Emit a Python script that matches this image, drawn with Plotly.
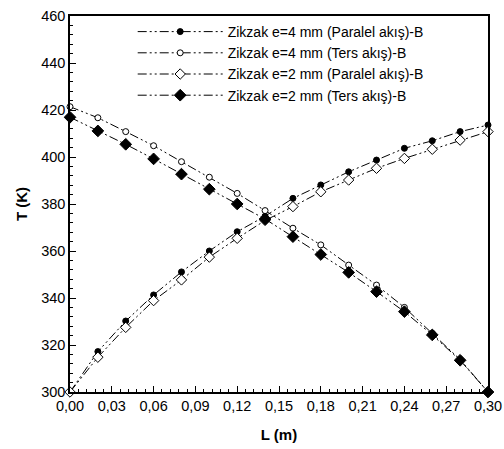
import plotly.graph_objects as go

L = [0.00, 0.02, 0.04, 0.06, 0.08, 0.10, 0.12, 0.14, 0.16, 0.18, 0.20, 0.22, 0.24, 0.26, 0.28, 0.30]
paralel_e4 = [300, 317.2, 330.2, 341.3, 351.1, 360.0, 368.2, 374.8, 382.4, 388.1, 393.7, 398.7, 403.7, 406.9, 410.8, 413.6]
ters_e4 = [421.4, 416.7, 410.8, 404.8, 398.0, 391.4, 384.5, 377.2, 369.7, 362.6, 354.0, 345.5, 336.0, 325.0, 313.8, 300]
paralel_e2 = [300, 314.8, 327.5, 338.9, 347.7, 357.4, 365.4, 373.0, 378.9, 385.2, 390.2, 395.2, 399.4, 403.3, 407.2, 410.8]
ters_e2 = [416.9, 411.1, 405.4, 399.2, 392.7, 386.3, 380.0, 373.6, 366.1, 358.5, 350.9, 342.7, 334.2, 324.3, 313.5, 300]

names = ["Zikzak e=4 mm (Paralel akış)-B", "Zikzak e=4 mm (Ters akış)-B",
         "Zikzak e=2 mm (Paralel akış)-B", "Zikzak e=2 mm (Ters akış)-B"]
series = [paralel_e4, ters_e4, paralel_e2, ters_e2]
symbols = ["circle", "circle-open", "diamond-open", "diamond"]
sizes = [6, 6, 8, 9]

dash = "9px,3px,2px,3px,2px,3px"

fig = go.Figure()
for name, ys, sym, sz in zip(names, series, symbols, sizes):
    fill = "white" if "open" in sym else "black"
    fig.add_trace(go.Scatter(
        x=L, y=ys, name=name, mode="lines+markers",
        line=dict(color="black", width=1, dash=dash),
        marker=dict(symbol=sym.replace("-open", ""), size=sz, color=fill,
                    line=dict(color="black", width=1)),
        cliponaxis=False,
    ))

tickvals_x = [0.00, 0.03, 0.06, 0.09, 0.12, 0.15, 0.18, 0.21, 0.24, 0.27, 0.30]
ticktext_x = ["0,00", "0,03", "0,06", "0,09", "0,12", "0,15", "0,18", "0,21", "0,24", "0,27", "0,30"]

fig.update_layout(
    width=504, height=449,
    margin=dict(l=70, r=16, t=16, b=57),
    paper_bgcolor="white", plot_bgcolor="white",
    font=dict(family="Liberation Sans, Arial, sans-serif", color="black", size=14),
    showlegend=True,
    legend=dict(x=0.15, y=1.0, xanchor="left", yanchor="top",
                bgcolor="rgba(0,0,0,0)", borderwidth=0,
                font=dict(size=14), itemwidth=85, tracegroupgap=0),
    xaxis=dict(range=[0, 0.30], tickvals=tickvals_x, ticktext=ticktext_x,
               automargin=False,
               showline=True, linecolor="black", linewidth=1.5, mirror=True,
               ticks="inside", ticklen=6, tickcolor="black",
               minor=dict(dtick=0.006, ticks="inside", ticklen=3, tickcolor="black"),
               showgrid=False, zeroline=False,
               tickfont=dict(size=14.5),
               title=dict(text="<b>L (m)</b>", font=dict(size=15), standoff=16)),
    yaxis=dict(range=[300, 460], dtick=20,
               automargin=False,
               showline=True, linecolor="black", linewidth=1.5, mirror=True,
               ticks="inside", ticklen=6, tickcolor="black",
               minor=dict(dtick=4, ticks="inside", ticklen=3, tickcolor="black"),
               showgrid=False, zeroline=False,
               tickfont=dict(size=14.5),
               title=dict(text="<b>T (K)</b>", font=dict(size=15), standoff=10)),
)

fig.write_html("out.html")
